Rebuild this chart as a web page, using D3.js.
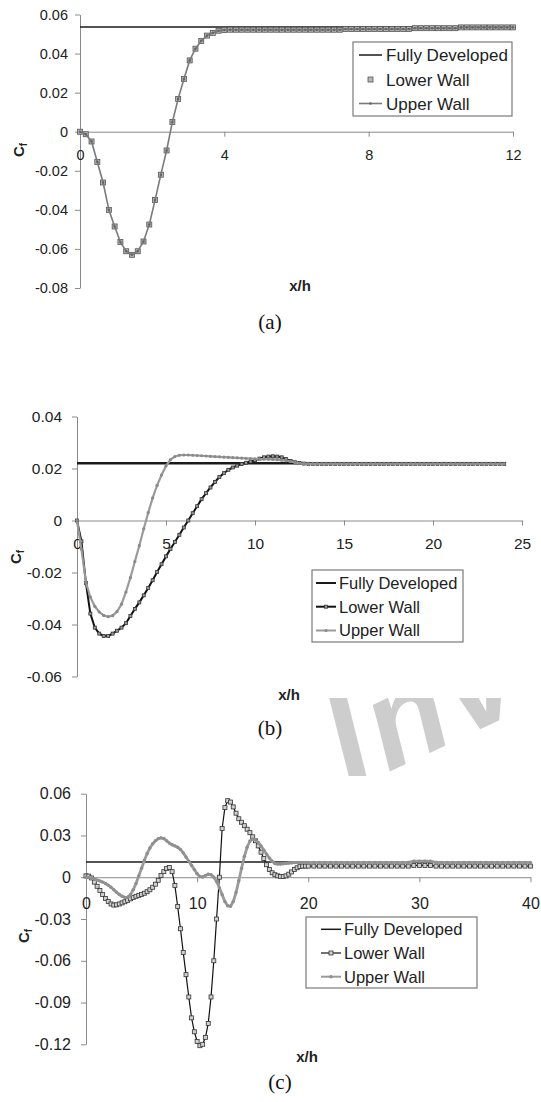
<!DOCTYPE html>
<html>
<head>
<meta charset="utf-8">
<script src="https://cdn.jsdelivr.net/npm/d3@7"></script>
<style>
  body { margin: 0; background: #fff; }
  svg { display: block; }
  text { font-family: "Liberation Sans", Arial, sans-serif; }
</style>
</head>
<body>
<div id="wrap"></div>
<script>
var width = 541;
var height = 1102;

var seriesNames = ['Fully Developed', 'Lower Wall', 'Upper Wall'];

// ---- panel (a) ----
var xA = [0, 0.16, 0.32, 0.48, 0.64, 0.80, 0.96, 1.12, 1.28, 1.44, 1.60, 1.76, 1.92, 2.08, 2.24, 2.40,
  2.56, 2.72, 2.88, 3.04, 3.20, 3.36, 3.52, 3.68, 3.84, 4.00, 4.16, 4.32, 4.48, 4.64, 4.80, 4.96,
  5.12, 5.28, 5.44, 5.60, 5.76, 5.92, 6.08, 6.24, 6.40, 6.56, 6.72, 6.88, 7.04, 7.20, 7.36, 7.52,
  7.68, 7.84, 8.00, 8.16, 8.32, 8.48, 8.64, 8.80, 8.96, 9.12, 9.28, 9.44, 9.60, 9.76, 9.92, 10.08,
  10.24, 10.40, 10.56, 10.72, 10.88, 11.04, 11.20, 11.36, 11.52, 11.68, 11.84, 12.00];
// both walls lie on top of each other in (a)
var lowerA = [0, -0.0013, -0.0050, -0.0155, -0.0260, -0.0400, -0.0485, -0.0565, -0.0612, -0.0630,
  -0.0612, -0.0562, -0.0475, -0.0350, -0.0220, -0.0096, 0.0050, 0.0168, 0.0270, 0.0365, 0.0425,
  0.0465, 0.0492, 0.0506, 0.0517, 0.0521,
  0.0522, 0.0522, 0.0522, 0.0522, 0.0522, 0.0522, 0.0522, 0.0522, 0.0522, 0.0522,
  0.0522, 0.0522, 0.0522, 0.0522, 0.0522, 0.0522, 0.0522, 0.0522, 0.0522, 0.0522,
  0.0526, 0.0526, 0.0526, 0.0526, 0.0526, 0.0526, 0.0526, 0.0526, 0.0526, 0.0526, 0.0526, 0.0526,
  0.0530, 0.0530, 0.0530, 0.0530, 0.0530, 0.0530, 0.0530, 0.0530,
  0.0534, 0.0534, 0.0534, 0.0534, 0.0534, 0.0534, 0.0534, 0.0534, 0.0534, 0.0534];
var upperA = lowerA;
var fdA = 0.0536;
var xTicksA = [0, 4, 8, 12];
var yTicksA = [-0.08, -0.06, -0.04, -0.02, 0, 0.02, 0.04, 0.06];

// ---- panel (b) ----
var xB = [0, 0.25, 0.5, 0.75, 1, 1.25, 1.5, 1.75, 2, 2.25, 2.5, 2.75, 3, 3.25, 3.5, 3.75, 4, 4.25,
  4.5, 4.75, 5, 5.25, 5.5, 5.75, 6, 6.25, 6.5, 6.75, 7, 7.25, 7.5, 7.75, 8, 8.25, 8.5, 8.75, 9,
  9.25, 9.5, 9.75, 10, 10.25, 10.5, 10.75, 11, 11.25, 11.5, 11.75, 12, 12.25, 12.5, 12.75, 13,
  13.25, 13.5, 13.75, 14, 14.25, 14.5, 14.75, 15, 15.25, 15.5, 15.75, 16, 16.25, 16.5, 16.75, 17,
  17.25, 17.5, 17.75, 18, 18.25, 18.5, 18.75, 19, 19.25, 19.5, 19.75, 20, 20.25, 20.5, 20.75, 21,
  21.25, 21.5, 21.75, 22, 22.25, 22.5, 22.75, 23, 23.25, 23.5, 23.75, 24];
var lowerB = [0, -0.0080, -0.0240, -0.0358, -0.0412, -0.0435, -0.0444, -0.0444, -0.0435, -0.0424,
  -0.0412, -0.0395, -0.0367, -0.0340, -0.0315, -0.0288, -0.0260, -0.0230, -0.0198, -0.0168,
  -0.0138, -0.0110, -0.0083, -0.0055, -0.0027, 0.0000, 0.0028, 0.0055, 0.0082, 0.0105, 0.0127,
  0.0148, 0.0167, 0.0182, 0.0195, 0.0204, 0.0211, 0.0217, 0.0222, 0.0227, 0.0232, 0.0238, 0.0243,
  0.0246, 0.0247, 0.0246, 0.0243, 0.0236, 0.0229, 0.0224, 0.0221, 0.0219,
  0.0218, 0.0218, 0.0218, 0.0218, 0.0218, 0.0218, 0.0218, 0.0218, 0.0218, 0.0218, 0.0218, 0.0218,
  0.0218, 0.0218, 0.0218, 0.0218, 0.0218, 0.0218, 0.0218, 0.0218, 0.0218, 0.0218, 0.0218, 0.0218,
  0.0218, 0.0218, 0.0218, 0.0218, 0.0218, 0.0218, 0.0218, 0.0218, 0.0218, 0.0218, 0.0218, 0.0218,
  0.0218, 0.0218, 0.0218, 0.0218, 0.0218, 0.0218, 0.0218, 0.0218, 0.0218];
var upperB = [0, -0.0110, -0.0238, -0.0295, -0.0330, -0.0352, -0.0365, -0.0370, -0.0366, -0.0350,
  -0.0322, -0.0275, -0.0220, -0.0158, -0.0097, -0.0032, 0.0030, 0.0087, 0.0135, 0.0175, 0.0210,
  0.0234, 0.0246, 0.0251, 0.0252, 0.0252, 0.0251, 0.0250, 0.0249, 0.0248, 0.0247, 0.0246, 0.0245,
  0.0244, 0.0243, 0.0242, 0.0241, 0.0240, 0.0239, 0.0238, 0.0237, 0.0236, 0.0236, 0.0236, 0.0235,
  0.0234, 0.0232, 0.0230, 0.0227, 0.0223, 0.0220, 0.0219,
  0.0218, 0.0218, 0.0218, 0.0218, 0.0218, 0.0218, 0.0218, 0.0218, 0.0218, 0.0218, 0.0218, 0.0218,
  0.0218, 0.0218, 0.0218, 0.0218, 0.0218, 0.0218, 0.0218, 0.0218, 0.0218, 0.0218, 0.0218, 0.0218,
  0.0218, 0.0218, 0.0218, 0.0218, 0.0218, 0.0218, 0.0218, 0.0218, 0.0218, 0.0218, 0.0218, 0.0218,
  0.0218, 0.0218, 0.0218, 0.0218, 0.0218, 0.0218, 0.0218, 0.0218, 0.0218];
var fdB = 0.022;
var xTicksB = [0, 5, 10, 15, 20, 25];
var yTicksB = [-0.06, -0.04, -0.02, 0, 0.02, 0.04];

// ---- panel (c) ----
var xC = [0, 0.25, 0.5, 0.75, 1, 1.25, 1.5, 1.75, 2, 2.25, 2.5, 2.75, 3, 3.25, 3.5, 3.75, 4, 4.25,
  4.5, 4.75, 5, 5.25, 5.5, 5.75, 6, 6.25, 6.5, 6.75, 7, 7.25, 7.5, 7.75, 8, 8.25, 8.5, 8.75, 9,
  9.25, 9.5, 9.75, 10, 10.25, 10.5, 10.75, 11, 11.25, 11.5, 11.75, 12, 12.25, 12.5, 12.75, 13,
  13.25, 13.5, 13.75, 14, 14.25, 14.5, 14.75, 15, 15.25, 15.5, 15.75, 16, 16.25, 16.5, 16.75, 17,
  17.25, 17.5, 17.75, 18, 18.25, 18.5, 18.75, 19, 19.25, 19.5, 19.75, 20,
  20.5, 21, 21.5, 22, 22.5, 23, 23.5, 24, 24.5, 25, 25.5, 26, 26.5, 27, 27.5, 28, 28.5, 29, 29.5,
  30, 30.5, 31, 31.5, 32, 32.5, 33, 33.5, 34, 34.5, 35, 35.5, 36, 36.5, 37, 37.5, 38, 38.5, 39,
  39.5, 40];
var lowerC = [0.0010, 0.0008, -0.0005, -0.0035, -0.0065, -0.0095, -0.0125, -0.0152, -0.0175,
  -0.0192, -0.0200, -0.0198, -0.0192, -0.0184, -0.0176, -0.0166, -0.0155, -0.0145, -0.0137,
  -0.0130, -0.0123, -0.0115, -0.0104, -0.0090, -0.0072, -0.0050, -0.0022, 0.0012, 0.0040, 0.0062,
  0.0070, 0.0040, -0.0060, -0.0210, -0.0370, -0.0540, -0.0700, -0.0860, -0.1010, -0.1110, -0.1180,
  -0.1210, -0.1200, -0.1150, -0.1050, -0.0860, -0.0600, -0.0300, 0.0000, 0.0350, 0.0500, 0.0550,
  0.0540, 0.0505, 0.0460, 0.0420, 0.0395, 0.0370, 0.0345, 0.0320, 0.0290, 0.0262, 0.0225, 0.0180,
  0.0135, 0.0090, 0.0055, 0.0032, 0.0018, 0.0010, 0.0005, 0.0005, 0.0010, 0.0022, 0.0038, 0.0055,
  0.0068, 0.0076, 0.0080, 0.0080, 0.0080,
  0.0080, 0.0080, 0.0080, 0.0080, 0.0080, 0.0080, 0.0080, 0.0080, 0.0080, 0.0080, 0.0080, 0.0080,
  0.0080, 0.0080, 0.0080, 0.0080, 0.0080, 0.0080, 0.0085, 0.0085, 0.0085, 0.0085,
  0.0080, 0.0080, 0.0080, 0.0080, 0.0080, 0.0080, 0.0080, 0.0080, 0.0080, 0.0080, 0.0080, 0.0080,
  0.0080, 0.0080, 0.0080, 0.0080, 0.0080, 0.0080];
var upperC = [0.0000, -0.0003, -0.0008, -0.0014, -0.0020, -0.0027, -0.0035, -0.0045, -0.0057,
  -0.0072, -0.0090, -0.0108, -0.0124, -0.0137, -0.0145, -0.0143, -0.0125, -0.0090, -0.0045,
  0.0010, 0.0065, 0.0120, 0.0170, 0.0210, 0.0240, 0.0262, 0.0277, 0.0283, 0.0278, 0.0262, 0.0245,
  0.0233, 0.0225, 0.0215, 0.0200, 0.0175, 0.0145, 0.0115, 0.0085, 0.0055, 0.0025, 0.0005, 0.0002,
  0.0012, 0.0022, 0.0018, 0.0000, -0.0030, -0.0075, -0.0125, -0.0175, -0.0205, -0.0208, -0.0175,
  -0.0110, -0.0025, 0.0065, 0.0150, 0.0215, 0.0260, 0.0275, 0.0268, 0.0250, 0.0225, 0.0195,
  0.0165, 0.0138, 0.0115, 0.0098, 0.0095, 0.0095, 0.0097, 0.0100, 0.0102, 0.0104, 0.0105, 0.0106,
  0.0106, 0.0106, 0.0106, 0.0106,
  0.0106, 0.0106, 0.0106, 0.0106, 0.0106, 0.0106, 0.0106, 0.0106, 0.0106, 0.0106, 0.0106, 0.0106,
  0.0106, 0.0106, 0.0106, 0.0106, 0.0106, 0.0106, 0.0115, 0.0115, 0.0115, 0.0115,
  0.0106, 0.0106, 0.0106, 0.0106, 0.0106, 0.0106, 0.0106, 0.0106, 0.0106, 0.0106, 0.0106, 0.0106,
  0.0106, 0.0106, 0.0106, 0.0106, 0.0106, 0.0106];
var fdC = 0.011;
var xTicksC = [0, 10, 20, 30, 40];
var yTicksC = [-0.12, -0.09, -0.06, -0.03, 0, 0.03, 0.06];

var svg = d3.select('#wrap').append('svg')
  .attr('width', width)
  .attr('height', height);

// watermark behind panel (b), cut off where panel (c) starts
svg.append('clipPath').attr('id', 'wmclip')
  .append('rect').attr('x', 0).attr('y', 698).attr('width', width).attr('height', 78);
svg.append('g')
  .attr('clip-path', 'url(#wmclip)')
  .append('text')
  .attr('transform', 'translate(350,790) rotate(-25)')
  .attr('font-size', 128)
  .attr('font-weight', 'bold')
  .attr('font-style', 'italic')
  .attr('letter-spacing', 6)
  .attr('fill', '#cdcdcd')
  .text('lnv');

function fmtY(d) {
  return d === 0 ? '0' : d.toFixed(2);
}

function panel(o) {
  var x = d3.scaleLinear().domain(o.xDomain).range(o.xRange);
  var y = d3.scaleLinear().domain(o.yDomain).range(o.yRange);
  var g = svg.append('g');

  // y axis
  var ya = g.append('g')
    .attr('transform', `translate(${o.xRange[0]},0)`)
    .call(d3.axisLeft(y).tickValues(o.yTicks).tickSize(5).tickSizeOuter(0)
      .tickPadding(o.yPad).tickFormat(fmtY));
  // x axis sits on y = 0
  var xa = g.append('g')
    .attr('transform', `translate(0,${y(0)})`)
    .call(d3.axisBottom(x).tickValues(o.xTicks).tickSize(5).tickSizeOuter(0)
      .tickPadding(o.xPad).tickFormat(d3.format('d')));
  [ya, xa].forEach(a => {
    a.select('.domain').attr('stroke', '#8a8a8a');
    a.selectAll('.tick line').attr('stroke', '#8a8a8a');
    a.selectAll('.tick text')
      .attr('fill', '#222')
      .attr('font-size', o.fs)
      .attr('font-family', '"Liberation Sans", Arial, sans-serif');
  });

  var line = d3.line().x(d => x(d[0])).y(d => y(d[1]));

  // fully developed
  g.append('path')
    .datum([[0, o.fd], [o.xs[o.xs.length - 1], o.fd]])
    .attr('d', line)
    .attr('fill', 'none')
    .attr('stroke', '#1a1a1a')
    .attr('stroke-width', o.fdWidth);

  var low = d3.zip(o.xs, o.lower);
  var up = d3.zip(o.xs, o.upper);

  // lower wall
  if (o.lowerLine) {
    g.append('path').datum(low).attr('d', line)
      .attr('fill', 'none').attr('stroke', '#111').attr('stroke-width', o.lowerLine);
  }
  g.append('g').selectAll('rect').data(low).join('rect')
    .attr('x', d => x(d[0]) - o.sq / 2)
    .attr('y', d => y(d[1]) - o.sq / 2)
    .attr('width', o.sq).attr('height', o.sq)
    .attr('fill', o.sqFill).attr('stroke', o.sqStroke).attr('stroke-width', 0.8);

  // upper wall
  g.append('path').datum(up).attr('d', line)
    .attr('fill', 'none').attr('stroke', o.upColor).attr('stroke-width', o.upWidth);
  g.append('g').selectAll('circle').data(up).join('circle')
    .attr('cx', d => x(d[0])).attr('cy', d => y(d[1])).attr('r', o.dotR)
    .attr('fill', o.dotColor);

  // axis titles
  var cf = g.append('text')
    .attr('transform', `translate(${o.cfPos[0]},${o.cfPos[1]}) rotate(-90)`)
    .attr('text-anchor', 'middle')
    .attr('font-weight', 'bold')
    .attr('font-size', 15)
    .attr('fill', '#222');
  cf.append('tspan').text('C');
  cf.append('tspan').attr('font-size', 10).attr('dy', 3).text('f');

  g.append('text')
    .attr('x', o.xhPos[0]).attr('y', o.xhPos[1])
    .attr('text-anchor', 'middle')
    .attr('font-weight', 'bold')
    .attr('font-size', 15)
    .attr('fill', '#222')
    .text('x/h');

  g.append('text')
    .attr('x', o.capPos[0]).attr('y', o.capPos[1])
    .attr('text-anchor', 'middle')
    .attr('font-size', 21)
    .style('font-family', '"Liberation Serif", "Times New Roman", serif')
    .attr('fill', '#111')
    .text(o.caption);

  // legend
  var L = o.legend;
  var lg = g.append('g');
  lg.append('rect')
    .attr('x', L.x0).attr('y', L.y0)
    .attr('width', L.x1 - L.x0).attr('height', L.y1 - L.y0)
    .attr('fill', '#fff').attr('stroke', '#7a7a7a').attr('stroke-width', 1.2);
  seriesNames.forEach((name, i) => {
    var cy = L.rows[i];
    var mx = (L.s0 + L.s1) / 2;
    if (i === 0) {
      lg.append('line').attr('x1', L.s0).attr('x2', L.s1).attr('y1', cy).attr('y2', cy)
        .attr('stroke', '#1a1a1a').attr('stroke-width', Math.min(o.fdWidth, 2));
    } else if (i === 1) {
      if (o.lowerLine) {
        lg.append('line').attr('x1', L.s0).attr('x2', L.s1).attr('y1', cy).attr('y2', cy)
          .attr('stroke', '#111').attr('stroke-width', o.lowerLine);
      }
      lg.append('rect').attr('x', mx - o.sq / 2).attr('y', cy - o.sq / 2)
        .attr('width', o.sq).attr('height', o.sq)
        .attr('fill', o.sqFill).attr('stroke', o.sqStroke).attr('stroke-width', 0.8);
    } else {
      lg.append('line').attr('x1', L.s0).attr('x2', L.s1).attr('y1', cy).attr('y2', cy)
        .attr('stroke', o.upColor).attr('stroke-width', Math.min(o.upWidth, 2));
      lg.append('circle').attr('cx', mx).attr('cy', cy).attr('r', o.dotR).attr('fill', o.dotColor);
    }
    lg.append('text')
      .attr('x', L.tx).attr('y', cy + L.fs * 0.36)
      .attr('font-size', L.fs)
      .attr('fill', '#222')
      .text(name);
  });
}

panel({
  xs: xA, lower: lowerA, upper: upperA, fd: fdA,
  xDomain: [0, 12], xRange: [80, 513],
  yDomain: [-0.08, 0.06], yRange: [288, 14.5],
  xTicks: xTicksA, yTicks: yTicksA,
  fs: 14.5, yPad: 7, xPad: 13,
  fdWidth: 1.5, lowerLine: 0, sq: 5, sqFill: '#b5b5b5', sqStroke: '#555',
  upColor: '#7a7a7a', upWidth: 1.6, dotR: 1.3, dotColor: '#666',
  cfPos: [24, 150], xhPos: [300, 291], capPos: [270, 329], caption: '(a)',
  legend: { x0: 353, y0: 42, x1: 512, y1: 116, rows: [55, 79.5, 103.5], s0: 359, s1: 382, tx: 386, fs: 17 }
});

panel({
  xs: xB, lower: lowerB, upper: upperB, fd: fdB,
  xDomain: [0, 25], xRange: [77, 522],
  yDomain: [-0.06, 0.04], yRange: [676.5, 416.5],
  xTicks: xTicksB, yTicks: yTicksB,
  fs: 15.5, yPad: 10, xPad: 12,
  fdWidth: 2.5, lowerLine: 2, sq: 3, sqFill: '#999', sqStroke: '#333',
  upColor: '#9a9a9a', upWidth: 2.2, dotR: 1.6, dotColor: '#8a8a8a',
  cfPos: [21, 557], xhPos: [289, 700], capPos: [270, 735], caption: '(b)',
  legend: { x0: 312, y0: 570, x1: 463, y1: 642, rows: [583, 606.7, 630.5], s0: 316, s1: 336, tx: 339, fs: 16.5 }
});

panel({
  xs: xC, lower: lowerC, upper: upperC, fd: fdC,
  xDomain: [0, 40], xRange: [86, 530.5],
  yDomain: [-0.12, 0.06], yRange: [1044.3, 793.7],
  xTicks: xTicksC, yTicks: yTicksC,
  fs: 16, yPad: 10, xPad: 15.5,
  fdWidth: 1.5, lowerLine: 1.2, sq: 4, sqFill: '#d0d0d0', sqStroke: '#333',
  upColor: '#9a9a9a', upWidth: 2.8, dotR: 1.7, dotColor: '#8f8f8f',
  cfPos: [29, 936], xhPos: [307, 1062], capPos: [280, 1089], caption: '(c)',
  legend: { x0: 306, y0: 917, x1: 477, y1: 988, rows: [929.3, 953, 976.7], s0: 321, s1: 341, tx: 344, fs: 16.5 }
});
</script>
</body>
</html>
